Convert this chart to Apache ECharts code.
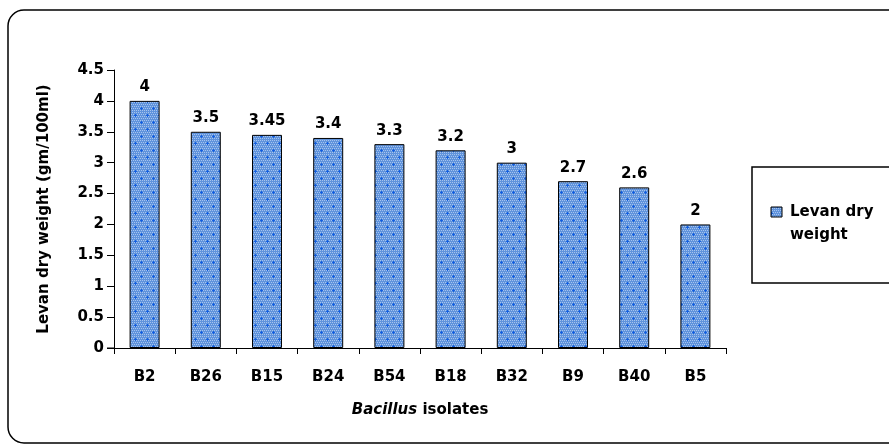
<!DOCTYPE html>
<html>
<head>
<meta charset="utf-8">
<script src="https://cdn.jsdelivr.net/npm/echarts@6/dist/echarts.min.js"></script>
<style>
  html, body { margin: 0; padding: 0; background: #fff; }
  #chart { width: 889px; height: 444px; }
</style>
</head>
<body>
<div id="chart"></div>
<script>
// Levan production by Bacillus isolates
const isolates = ['B2', 'B26', 'B15', 'B24', 'B54', 'B18', 'B32', 'B9', 'B40', 'B5'];
const levanDryWeight = [4, 3.5, 3.45, 3.4, 3.3, 3.2, 3, 2.7, 2.6, 2];
const seriesName = 'Levan dry weight';

// Dotted blue fill tile for the bars
function makePattern() {
  const c = document.createElement('canvas');
  c.width = 12; c.height = 14;
  const g = c.getContext('2d');
  g.fillStyle = '#5f93dc';
  g.fillRect(0, 0, 12, 14);
  g.fillStyle = '#a6c3ee';
  for (let y = 0; y < 14; y += 2) {
    for (let x = 0; x < 12; x += 2) {
      g.fillRect(x + (y % 4 === 0 ? 0 : 1), y, 1, 1);
    }
  }
  g.fillStyle = '#1560e0';
  function cross(cx, cy) {
    g.fillRect(cx - 1, cy, 3, 1);
    g.fillRect(cx, cy - 1, 1, 3);
  }
  cross(3, 3);
  cross(9, 10);
  return c;
}
const pattern = makePattern();
const fillPattern = { image: pattern, repeat: 'repeat' };

const font = 'DejaVu Sans, Arial, sans-serif';
const fs = 15;
const chart = echarts.init(document.getElementById('chart'), null, { renderer: 'canvas' });

chart.setOption({
  animation: false,
  backgroundColor: '#fff',
  grid: { left: 114, top: 70, width: 612, height: 278, containLabel: false },
  xAxis: {
    type: 'category',
    data: isolates,
    axisLine: { show: true, lineStyle: { color: '#000', width: 1 } },
    axisTick: { show: true, alignWithLabel: false, length: 6, lineStyle: { color: '#000' } },
    axisLabel: { color: '#000', fontFamily: font, fontWeight: 'bold', fontSize: fs, margin: 22 },
    name: '{i|Bacillus} isolates',
    nameLocation: 'middle',
    nameGap: 55,
    nameTextStyle: {
      color: '#000', fontFamily: font, fontWeight: 'bold', fontSize: fs,
      rich: { i: { fontStyle: 'italic', fontWeight: 'bold', fontFamily: font, fontSize: fs, color: '#000' } }
    }
  },
  yAxis: {
    type: 'value',
    min: 0, max: 4.5, interval: 0.5,
    axisLine: { show: true, lineStyle: { color: '#000', width: 1 } },
    axisTick: { show: true, length: 7, lineStyle: { color: '#000' } },
    splitLine: { show: false },
    axisLabel: { color: '#000', fontFamily: font, fontWeight: 'bold', fontSize: fs, margin: 10 },
    name: 'Levan dry weight (gm/100ml)',
    nameLocation: 'middle',
    nameRotate: 90,
    nameGap: 62,
    nameTextStyle: { color: '#000', fontFamily: font, fontWeight: 'bold', fontSize: fs }
  },
  series: [{
    name: seriesName,
    type: 'bar',
    data: levanDryWeight,
    barWidth: '49%',
    itemStyle: { color: fillPattern, borderColor: '#000', borderWidth: 1 },
    label: {
      show: true, position: 'top', distance: 6,
      color: '#000', fontFamily: font, fontWeight: 'bold', fontSize: fs
    }
  }],
  graphic: [
    // outer chart frame
    { type: 'rect', shape: { x: 8, y: 10, width: 895, height: 433, r: 16 },
      style: { fill: 'none', stroke: '#000', lineWidth: 1.5 }, z: 10 },
    // x axis extension left of the value axis
    { type: 'line', shape: { x1: 107, y1: 348, x2: 114, y2: 348 },
      style: { stroke: '#000', lineWidth: 1 }, z: 10 },
    // legend box
    { type: 'rect', shape: { x: 752, y: 167, width: 150, height: 116 },
      style: { fill: '#fff', stroke: '#000', lineWidth: 1.5 }, z: 10 },
    { type: 'rect', shape: { x: 771, y: 207, width: 11, height: 10 },
      style: { fill: fillPattern, stroke: '#000', lineWidth: 1 }, z: 11 },
    { type: 'text', x: 790, y: 201,
      style: { text: 'Levan dry\nweight', fill: '#000', font: 'bold 15px ' + font, lineHeight: 23 }, z: 11 }
  ]
});
</script>
</body>
</html>
